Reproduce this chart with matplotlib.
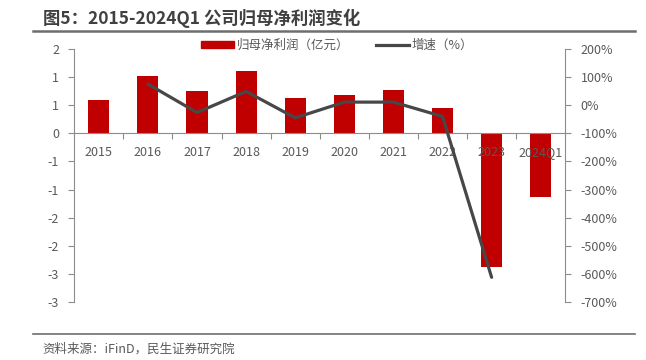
import matplotlib
matplotlib.use('Agg')
from matplotlib import pyplot as plt
from matplotlib.lines import Line2D
from matplotlib.ticker import FixedLocator, FuncFormatter
import math

plt.rcParams['font.family'] = ['Noto Sans CJK SC', 'DejaVu Sans']

# data
categories = ['2015', '2016', '2017', '2018', '2019', '2020', '2021', '2022', '2023', '2024Q1']
profit = [0.59, 1.02, 0.75, 1.11, 0.62, 0.68, 0.77, 0.45, -2.37, -1.13]  # 亿元
growth_years = ['2016', '2017', '2018', '2019', '2020', '2021', '2022', '2023']
growth = [75, -26, 49, -45, 11, 11, -40, -612]  # %

left_ticks = [-3, -2.5, -2, -1.5, -1, -0.5, 0, 0.5, 1, 1.5]
right_ticks = [-700, -600, -500, -400, -300, -200, -100, 0, 100, 200]

RED = '#C00000'
LINE = '#474747'
TXT = '#595959'
AX = '#8c8c8c'


def excel_round(v, pos=None):
    # excel style: round half away from zero
    r = math.floor(abs(v) + 0.5)
    return '{}'.format(int(r) if v >= 0 else -int(r))


def main():
    fig = plt.figure(figsize=(6.46, 3.6), dpi=100)
    ax = fig.add_axes([0.115, 0.161, 0.76, 0.703])
    x = list(range(len(categories)))
    ax.bar(x, profit, width=0.43, color=RED, zorder=1)
    ax.set_xlim(-0.5, len(categories) - 0.5)
    ax.set_ylim(-3, 1.5)
    ax.yaxis.set_major_locator(FixedLocator(left_ticks))
    ax.yaxis.set_major_formatter(FuncFormatter(excel_round))
    ax.set_xticks(x)
    ax.set_xticklabels(categories)
    ax.set_xticks([i + 0.5 for i in x[:-1]], minor=True)
    ax.tick_params(axis='x', which='major', length=0, pad=9, labelsize=9, labelcolor=TXT)
    ax.tick_params(axis='x', which='minor', length=4, width=0.8, color=AX, direction='out')
    ax.tick_params(axis='y', length=4, width=0.8, color=AX, labelsize=9, labelcolor=TXT, pad=7)
    ax.spines['bottom'].set_position(('data', 0))
    ax.spines['bottom'].set_color(AX)
    ax.spines['left'].set_color(AX)
    ax.spines['top'].set_visible(False)
    ax.spines['right'].set_visible(False)

    ax2 = ax.twinx()
    gx = [categories.index(c) for c in growth_years]
    ax2.plot(gx, growth, color=LINE, lw=2.3, solid_capstyle='round', solid_joinstyle='round')
    ax2.set_ylim(-700, 200)
    ax2.yaxis.set_major_locator(FixedLocator(right_ticks))
    ax2.yaxis.set_major_formatter(FuncFormatter(lambda v, p: '{:.0f}%'.format(v)))
    ax2.tick_params(axis='y', length=4, width=0.8, color=AX, labelsize=9, labelcolor=TXT, pad=7)
    ax2.spines['right'].set_color(AX)
    for s in ['top', 'left', 'bottom']:
        ax2.spines[s].set_visible(False)

    # legend
    handles = [plt.Rectangle((0, 0), 1, 1, color=RED),
               Line2D([0], [0], color=LINE, lw=2.3)]
    fig.legend(handles, ['归母净利润（亿元）', '增速（%）'], loc='center',
               bbox_to_anchor=(0.522, 0.873), ncol=2, frameon=False, fontsize=9,
               labelcolor=TXT, handlelength=2.6, handleheight=0.5, handletextpad=0.2,
               columnspacing=2.2)

    # title and decorations
    fig.text(0.066, 0.948, '图5：2015-2024Q1 公司归母净利润变化', fontsize=12.5,
             fontweight='bold', color='#404040', va='center', ha='left')
    fig.add_artist(Line2D([0.051, 0.983], [0.913, 0.913], color='#6e6e6e', lw=1.8))
    fig.add_artist(Line2D([0.051, 0.983], [0.071, 0.071], color='#6e6e6e', lw=1.2))
    fig.text(0.066, 0.031, '资料来源：iFinD，民生证券研究院', fontsize=9, color=TXT,
             va='center', ha='left')

    fig.savefig('out.png', dpi=100)


if __name__ == '__main__':
    main()
